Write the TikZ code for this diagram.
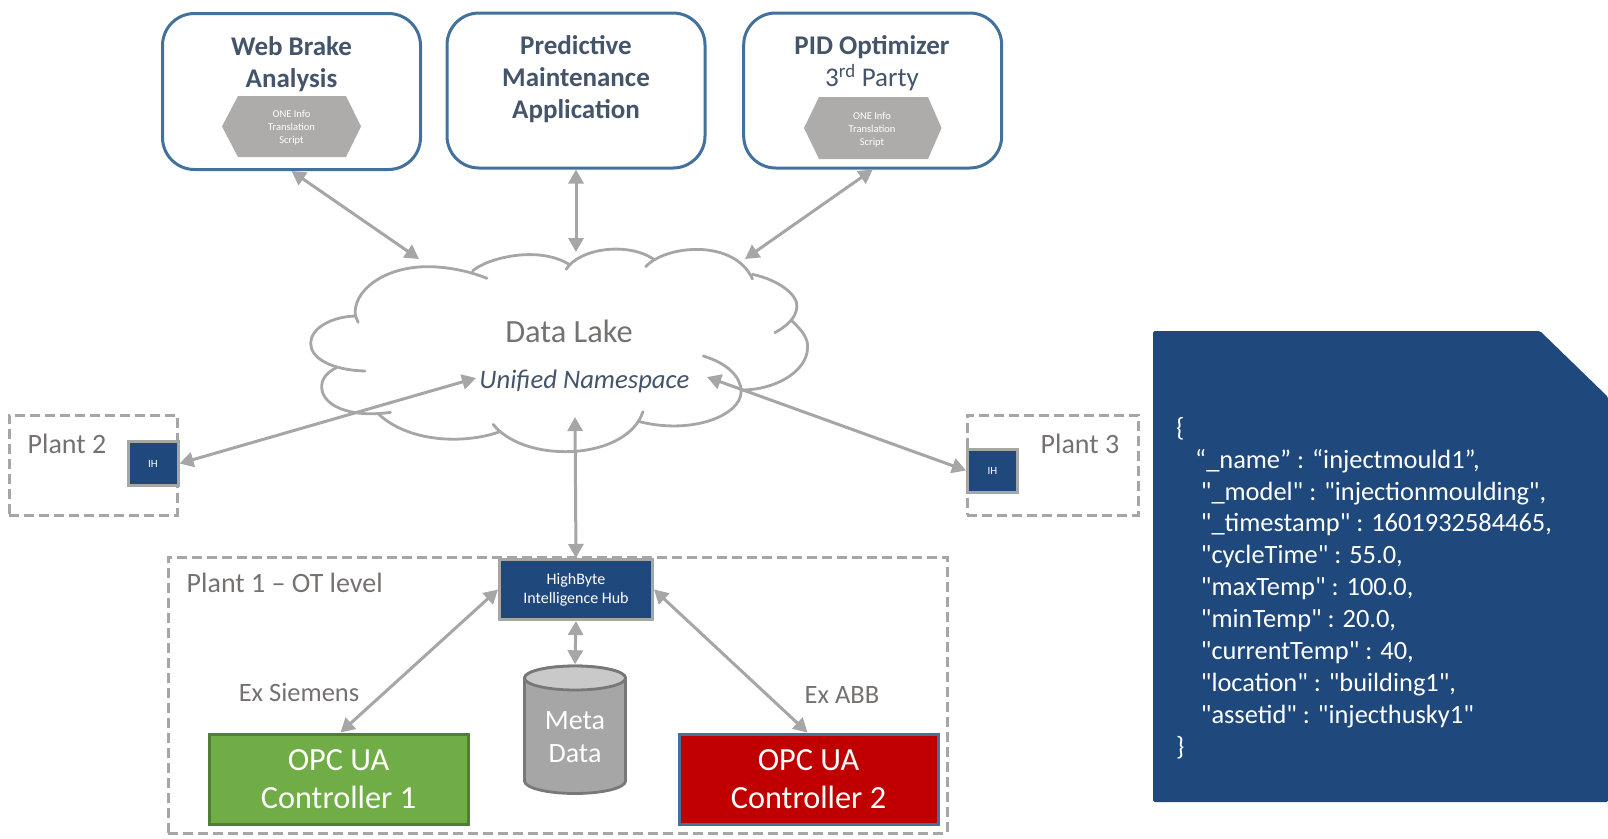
\documentclass[tikz,border=0pt]{standalone}
\usepackage{fontspec}
\setmainfont{Carlito}
\newfontfamily\jsonfont{Carlito}
\usetikzlibrary{arrows.meta}
\definecolor{navy}{HTML}{1F497D}
\definecolor{linegray}{HTML}{A6A6A6}
\definecolor{slate}{HTML}{44546A}
\definecolor{txtgray}{HTML}{767171}
\definecolor{boxblue}{HTML}{41719C}
\definecolor{hexgray}{HTML}{AEABAB}
\definecolor{cylline}{HTML}{787878}
\definecolor{cyltop}{HTML}{C9C9C9}
\definecolor{ctrlgreen}{HTML}{70AD47}
\definecolor{ctrlgreenline}{HTML}{507E32}
\definecolor{ctrlred}{HTML}{C00000}
\newcommand{\fs}[1]{\fontsize{#1}{#1}\selectfont}
\tikzset{
  appbox/.style={draw=boxblue,line width=3pt,rounded corners=32pt,fill=white,minimum width=258pt},
  apptitle/.style={text=slate,align=center,font=\fontsize{27}{32}\selectfont},
  hexbox/.style={fill=hexgray,draw=none},
  hextext/.style={text=white,align=center,font=\fontsize{10.5}{13}\selectfont},
  ihbox/.style={draw=linegray,line width=3pt,fill=navy,text=white,inner sep=0pt},
  plantbox/.style={draw=linegray,line width=3pt,dash pattern=on 10pt off 5pt},
  graytext/.style={text=txtgray,font=\fs{28}},
  linkarrow/.style={draw=linegray,line width=3pt,{Triangle[length=14pt,width=15pt]}-{Triangle[length=14pt,width=15pt]}},
  cloudline/.style={draw=linegray,line width=2.8pt,line cap=round},
  ctrl/.style={text=white,align=center,minimum width=259pt,minimum height=90pt,line width=3pt,font=\fontsize{32.3}{38}\selectfont},
}
\begin{document}
\begin{tikzpicture}[x=1pt,y=-1pt]
\useasboundingbox (0,0) rectangle (1608,838);

% note
\fill[navy,rounded corners=1.5pt] (1153,331) -- (1540,331) -- (1608,397) -- (1608,802) -- (1153,802) -- cycle;
\node[anchor=north west,text=white,align=left,inner sep=0pt,font=\jsonfont\fontsize{26.4}{31.9}\selectfont] (json) at (1176,417) {%
\{\\
\hspace*{19pt}“\_name” : “injectmould1”,\\
\hspace*{24.7pt}"\_model" : "injectionmoulding",\\
\hspace*{24.7pt}"\_timestamp" : 1601932584465,\\
\hspace*{24.7pt}"cycleTime" : 55.0,\\
\hspace*{24.7pt}"maxTemp" : 100.0,\\
\hspace*{24.7pt}"minTemp" : 20.0,\\
\hspace*{24.7pt}"currentTemp" : 40,\\
\hspace*{24.7pt}"location" : "building1",\\
\hspace*{24.7pt}"assetid" : "injecthusky1"\\
\}};

% plant frames
\node[plantbox,minimum width=168pt,minimum height=100pt,inner sep=0pt] (p2) at (93,465) {};
\node[plantbox,minimum width=171pt,minimum height=100pt,inner sep=0pt] (p3) at (1052.5,465) {};
\node[plantbox,minimum width=779pt,minimum height=276pt,inner sep=0pt] (p1) at (557.5,695) {};
\node[graytext] (p2t) at (67,443.5) {Plant 2};
\node[graytext] (p3t) at (1080,443.5) {Plant 3};
\node[graytext,anchor=west,inner sep=0pt] (p1t) at (186.5,583) {Plant 1 – OT level};

% application boxes
\node[appbox,minimum height=156pt] (a1) at (291.5,91.5) {};
\node[appbox,minimum height=155pt] (a2) at (576,90.5) {};
\node[appbox,minimum height=155pt] (a3) at (872.7,90.5) {};
\node[apptitle] (a1t) at (291.5,64) {\textbf{Web Brake}\\\textbf{Analysis}};
\node[apptitle] (a2t) at (576,79.5) {\textbf{Predictive}\\\textbf{Maintenance}\\\textbf{Application}};
\node[apptitle] (a3t) at (872,63) {\textbf{PID Optimizer}\\3\textsuperscript{rd} Party};
\fill[hexbox] (222,126.5) -- (238,96) -- (346,96) -- (361,126.5) -- (346,157) -- (238,157) -- cycle;
\node[hextext] (h1) at (291.5,128) {ONE Info\\Translation\\Script};
\fill[hexbox] (804,128) -- (819,97) -- (928,97) -- (941.5,128) -- (928,159) -- (819,159) -- cycle;
\node[hextext] (h2) at (872,129.5) {ONE Info\\Translation\\Script};

% cloud
\begin{scope}[shift={(290,235)},x=0.34435pt,y=-0.33333pt]
\draw[cloudline] (198,262) -- (190,243) .. controls (180,170) and (270,95) .. (400,95) .. controls (460,95) and (525,110) .. (572,130);
\draw[cloudline] (530,108) .. controls (570,70) and (720,30) .. (810,88);
\draw[cloudline] (802,103) .. controls (840,40) and (980,20) .. (1055,72);
\draw[cloudline] (1033,95) .. controls (1090,30) and (1290,10) .. (1343,132);
\draw[cloudline] (1343,118) .. controls (1420,135) and (1475,180) .. (1472,215) .. controls (1470,250) and (1440,275) .. (1408,293);
\draw[cloudline] (1458,258) .. controls (1490,290) and (1505,310) .. (1503,340) .. controls (1500,410) and (1410,465) .. (1310,465);
\draw[cloudline] (1200,363) .. controls (1270,385) and (1310,425) .. (1310,470) .. controls (1310,540) and (1170,600) .. (1015,560);
\draw[cloudline] (1025,530) .. controls (1000,610) and (900,650) .. (800,650) .. controls (710,650) and (630,620) .. (590,568);
\draw[cloudline] (610,590) .. controls (500,630) and (340,620) .. (255,535);
\draw[cloudline] (292,532) .. controls (170,550) and (92,510) .. (92,455) .. controls (92,430) and (110,410) .. (135,398);
\draw[cloudline] (218,408) .. controls (120,405) and (60,370) .. (60,325) .. controls (60,280) and (120,245) .. (190,243);
\end{scope}
\node[graytext,font=\fs{32.4}] (lake) at (569,331) {Data Lake};
\node[text=slate,font=\fs{26.7}\itshape] (uns) at (584.4,381.5) {Unified Namespace};
\coordinate (c1) at (419,259);
\coordinate (c2) at (576,252);
\coordinate (c3) at (745,259);
\coordinate (c4) at (476,378);
\coordinate (c5) at (707,377);
\coordinate (c6) at (575,417);

% hub, cylinder, controllers
\node[ihbox,align=center,minimum width=153pt,minimum height=60pt,font=\fontsize{16}{19}\selectfont] (hub) at (576,589.5) {HighByte\\Intelligence Hub};
\node[ihbox,minimum width=50pt,minimum height=44pt,font=\fs{11}] (ih2) at (153,463.5) {IH};
\node[ihbox,minimum width=50pt,minimum height=43pt,font=\fs{11}] (ih3) at (992.5,470.5) {IH};
\node[ctrl,draw=ctrlgreenline,fill=ctrlgreen] (o1) at (338.5,779) {OPC UA\\Controller 1};
\node[ctrl,draw=boxblue,fill=ctrlred] (o2) at (808.5,779) {OPC UA\\Controller 2};
\draw[draw=cylline,line width=2.8pt,fill=linegray] (524.5,678) -- (524.5,781) arc[start angle=180,end angle=360,x radius=50.5pt,y radius=12.5pt] -- (625.5,678) arc[start angle=0,end angle=180,x radius=50.5pt,y radius=12pt] -- cycle;
\draw[draw=cylline,line width=2.8pt,fill=cyltop] (575,678) ellipse[x radius=50.5pt,y radius=12pt];
\node[text=white,align=center,minimum width=104pt,minimum height=129pt,inner sep=0pt,font=\fontsize{28}{33}\selectfont] (meta) at (575,724) {\\[12pt]Meta\\Data};

% connectors
\draw[linkarrow] (a1.south) -- (c1);
\draw[linkarrow] (a2.south) -- (c2);
\draw[linkarrow] (a3.south) -- (c3);
\draw[linkarrow] (ih2.east) -- (c4);
\draw[linkarrow] (ih3.west) -- (c5);
\draw[linkarrow] (hub.north) -- (c6);
\draw[linkarrow] (hub.south) -- ([yshift=-5pt]meta.north);
\draw[linkarrow] (hub.west) -- ([xshift=2pt]o1.north);
\draw[linkarrow] (hub.east) -- ([xshift=-1pt]o2.north);

\node[graytext,font=\fs{26.5}] (s) at (299,692.5) {Ex Siemens};
\node[graytext,font=\fs{26.5}] (b) at (842,694.5) {Ex ABB};
\end{tikzpicture}
\end{document}
